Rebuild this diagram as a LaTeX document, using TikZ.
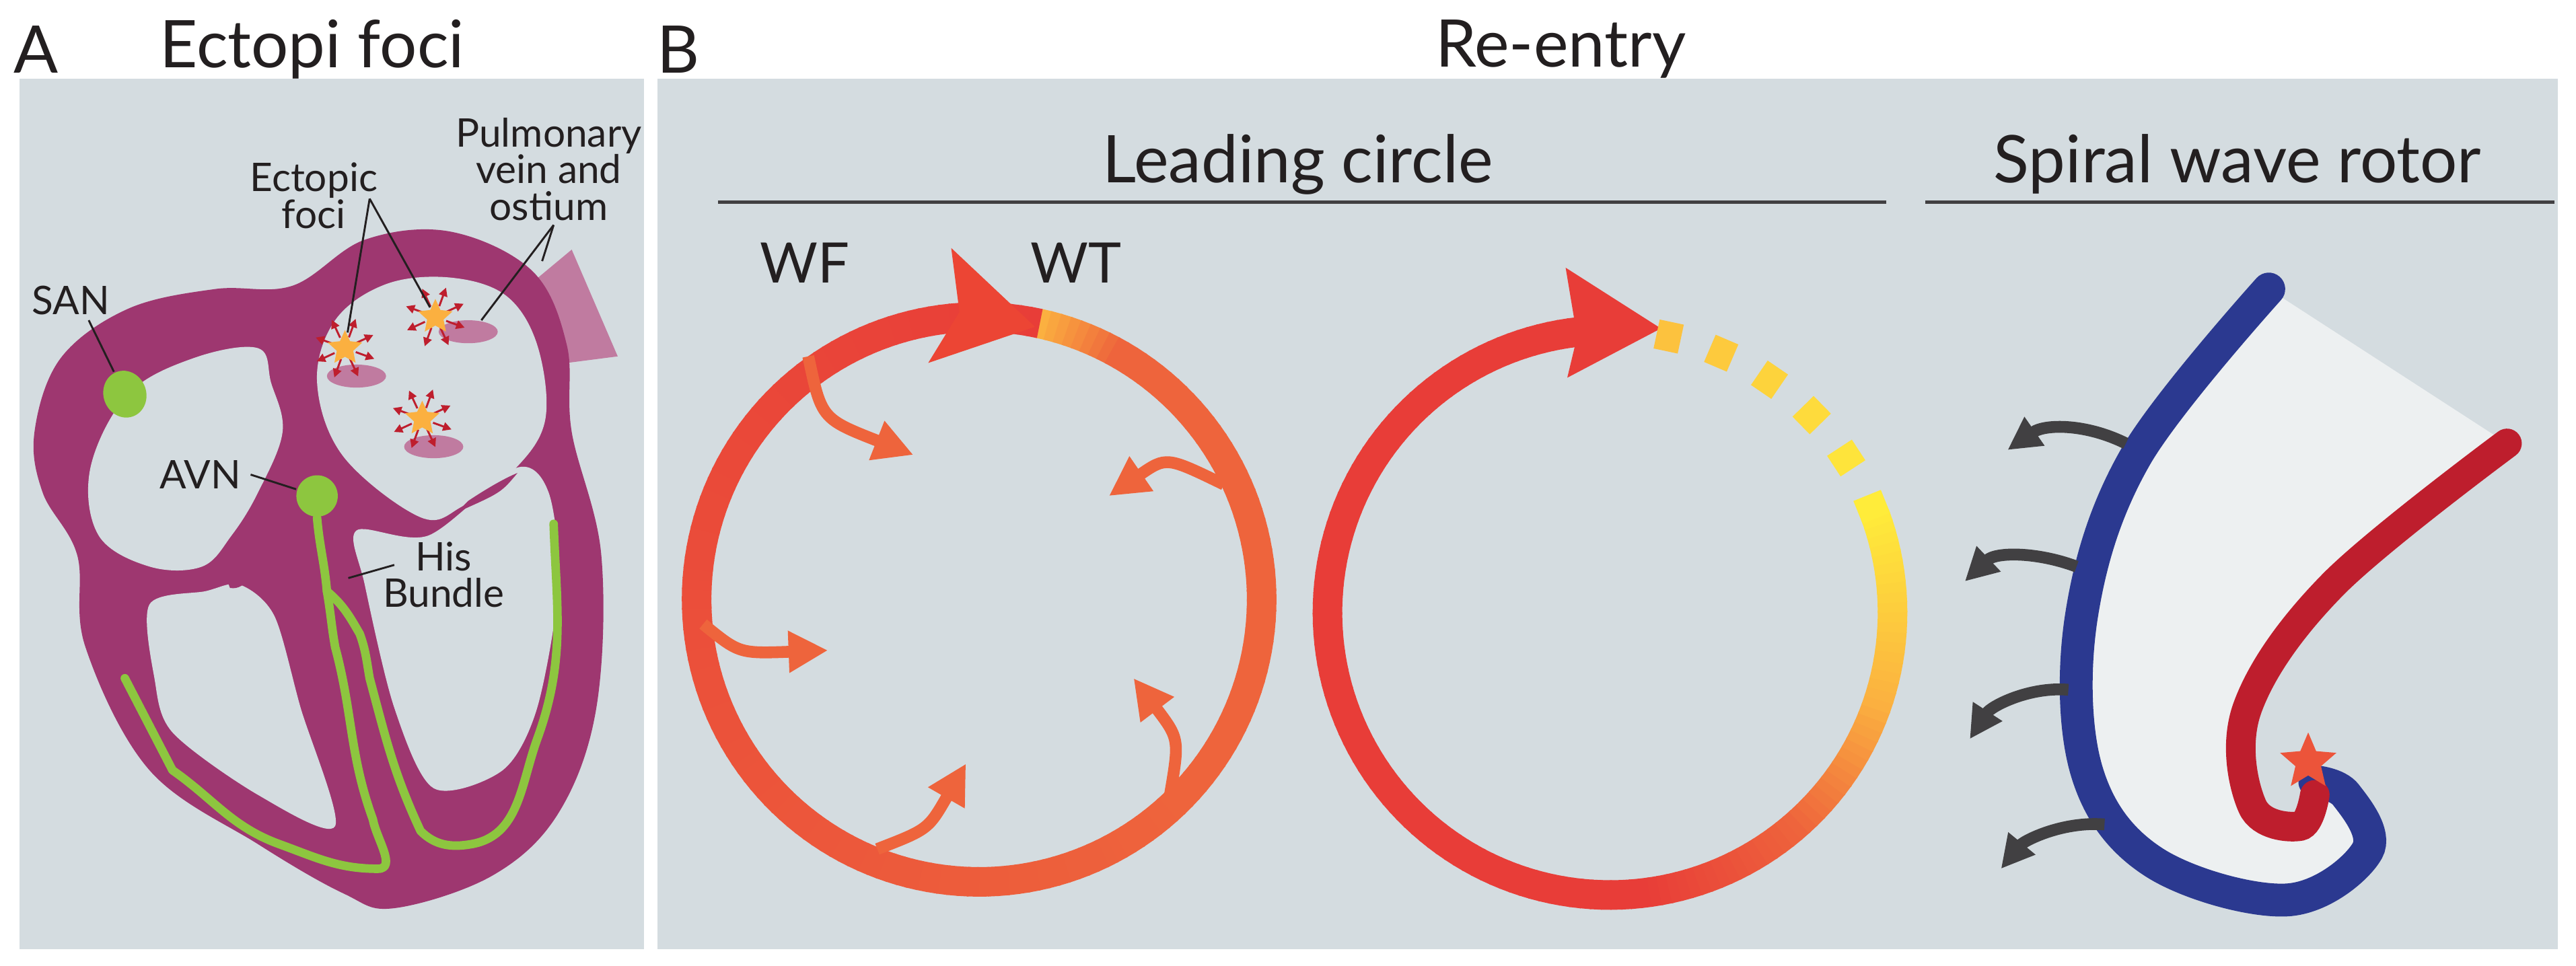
\documentclass[tikz,border=0pt]{standalone}
\usepackage{fontspec}
\setmainfont{Lato}
\usetikzlibrary{shapes.geometric,arrows.meta}
\definecolor{bg}{HTML}{D4DCE0}
\definecolor{heart}{HTML}{9E3770}
\definecolor{lpur}{HTML}{C07BA0}
\definecolor{grn}{HTML}{8DC63F}
\definecolor{rd}{HTML}{E83D38}
\definecolor{orng}{HTML}{EE643C}
\definecolor{yel}{HTML}{FBB040}
\definecolor{yel2}{HTML}{FFEC3A}
\definecolor{blu}{HTML}{2B3990}
\definecolor{srd}{HTML}{BE1E2D}
\definecolor{dk}{HTML}{414042}
\definecolor{txt}{HTML}{231F20}
\tikzset{
  title/.style={text=txt,font=\fontsize{10pt}{12pt}\selectfont,inner sep=0},
  lab/.style={text=txt,font=\fontsize{6pt}{6.6pt}\selectfont,inner sep=0,align=center},
  ptr/.style={draw=txt,line width=0.3pt},
  chamber/.style={fill=bg},
  bund/.style={draw=grn,line width=1.3pt,line cap=round,line join=round},
  small/.style={draw=orng,line width=1.8pt,-{Triangle[length=6pt,width=6pt]}},
  spark/.style={draw=srd,line width=0.3pt,-{Triangle[length=1.3pt,width=1.3pt]}},
  blk/.style={draw=dk,line width=1.8pt,-{Triangle[length=5pt,width=5pt]}},
}
\begin{document}
\begin{tikzpicture}[x=0.25pt,y=-0.25pt]
\useasboundingbox (0,0) rectangle (1568,588);
\fill[white] (0,0) rectangle (1568,588);
\fill[bg] (12,48) rectangle (392,578);
\fill[bg] (400,48) rectangle (1557,578);
\node[title] (A) at (22,30) {A};
\node[title] (tA) at (190,30) {Ectopi foci};
\node[title] (B) at (413,30) {B};
\node[title] (tB) at (950,30) {Re-entry};
\node[title] (tLC) at (790,100) {Leading circle};
\node[title] (tSW) at (1362,100) {Spiral wave rotor};
\draw[draw=dk,line width=0.5pt] (437,123) -- (1148,123);
\draw[draw=dk,line width=0.5pt] (1172,123) -- (1555,123);

% ---------- Heart ----------
\fill[lpur] (324,172) -- (348,152) -- (376,217) -- (345,221) -- cycle;
\fill[heart] plot[smooth cycle,tension=0.6] coordinates {(178,174) (222,146) (274,141) (324,165) (345,210) (348,263) (366,338) (363,431) (340,495) (300,533) (240,553) (209,544) (157,514) (91,469) (52,394) (47,338) (26,300) (21,263) (37,218) (78,188) (131,176)};
\fill[chamber] plot[smooth cycle,tension=0.6] coordinates {(55,285) (78,240) (118,218) (157,212) (165,233) (172,263) (157,300) (141,326) (123,345) (91,345) (60,326)};
\fill[chamber] plot[smooth cycle,tension=0.6] coordinates {(193,233) (204,195) (235,173) (274,169) (308,180) (327,210) (332,255) (314,285) (282,308) (256,315) (209,278)};
\fill[chamber] plot[smooth cycle,tension=0.5] coordinates {(91,368) (125,360) (146,356) (167,375) (183,431) (204,503) (157,484) (105,446) (94,413)};
\fill[chamber] plot[smooth cycle,tension=0.5] coordinates {(217,323) (261,326) (314,285) (334,300) (340,356) (327,431) (306,469) (264,480) (240,431) (222,356)};
% valves
\fill[heart] (150,330) .. controls (160,345) and (150,360) .. (140,358) .. controls (135,345) .. (150,330) -- cycle;
\fill[heart] (210,310) .. controls (240,300) and (255,315) .. (262,322) .. controls (240,320) .. (210,318) -- cycle;
\fill[heart] (285,305) .. controls (300,295) and (310,290) .. (315,288) .. controls (305,300) .. (278,312) -- cycle;
% bundle
\node[draw=none,fill=grn,ellipse,minimum width=6.5pt,minimum height=7.2pt,inner sep=0,rotate=20] (SAN) at (76,240) {};
\node[draw=none,fill=grn,circle,minimum size=6.3pt,inner sep=0] (AVN) at (193,302) {};
\draw[bund] (AVN.south) to[out=-85,in=95] (199,360) to[out=-80,in=100] (204,394) to[out=-75,in=110] (227,499) to[out=-80,in=0] (230,529) to[out=180,in=-20] (170,514) to[out=160,in=-35] (105,469) -- (76,413);
\draw[bund] (199,360) to[out=-40,in=120] (219,386) to[out=-70,in=100] (225,413) to[out=-75,in=115] (256,506) to[out=-45,in=190] (287,514) to[out=10,in=-110] (327,450) to[out=70,in=-88] (337,319);
% foci
\foreach \n/\sx/\sy/\ex/\ey in {f1/210/212/217/229, f2/265/193/285/202, f3/257/255/264/272}{
  \fill[lpur] (\ex,\ey) ellipse[x radius=18,y radius=7];
  \foreach \a in {0,45,...,315}{
    \draw[spark] ({\sx+7*cos(\a+20)},{\sy+7*sin(\a+20)}) -- ({\sx+19*cos(\a+20)},{\sy+19*sin(\a+20)});
  }
  \node[star,star points=5,star point ratio=2.1,fill=yel,minimum size=5.5pt,inner sep=0] (\n) at (\sx,\sy) {};
}
% labels
\node[lab] (lSAN) at (43,183) {SAN};
\draw[ptr] (54,195) -- (SAN);
\node[lab] (lAVN) at (122,289) {AVN};
\draw[ptr] (lAVN.east) ++(5,0) -- (AVN);
\node[lab] (lHis) at (270,350) {His\\[-1pt]Bundle};
\coordinate (hisEnd) at (212,352);
\draw[ptr] (240,344) -- (hisEnd);
\node[lab] (lEct) at (191,119) {Ectopic\\[-1pt]foci};
\coordinate (ectJ) at (225,121);
\draw[ptr] (ectJ) -- (f1);
\draw[ptr] (ectJ) -- (f2);
\node[lab] (lPul) at (334,103) {Pulmonary\\[-1pt]vein and\\[-1pt]ostium};
\coordinate (pulJ) at (337,137);
\draw[ptr] (pulJ) -- (293,195);
\draw[ptr] (pulJ) -- (330,159);

% ---------- Leading circle 1 ----------
\def\cxa{596}\def\cya{365}\def\ra{172}
\foreach \i in {0,...,179}{
  \pgfmathsetmacro{\aa}{78-2*\i}
  \pgfmathsetmacro{\ab}{78-2*\i-2.4}
  \ifnum\i<8
    \pgfmathtruncatemacro{\q}{100-\i*12.5}\colorlet{cc}{yel!\q!orng}
  \else
    \ifnum\i<60 \colorlet{cc}{orng}\else
    \pgfmathtruncatemacro{\q}{(\i-60)*100/120}\colorlet{cc}{rd!\q!orng}\fi
  \fi
  \draw[cc,line width=4.5pt] ({\cxa+\ra*cos(\aa)},{\cya-\ra*sin(\aa)}) -- ({\cxa+\ra*cos(\ab)},{\cya-\ra*sin(\ab)});
}
\fill[rd!60!orng!90!red] (630,199) -- (579,151) -- (584,190) -- (565,221) -- cycle;
\node[title,font=\fontsize{8.5pt}{10pt}\selectfont] (WF) at (490,160) {WF};
\node[title,font=\fontsize{8.5pt}{10pt}\selectfont] (WT) at (655,160) {WT};
\draw[small] (492,217) .. controls (500,255) .. (556,277);
\draw[small] (745,295) .. controls (710,278) .. (675,302);
\draw[small] (428,380) .. controls (450,398) .. (504,396);
\draw[small] (712,485) .. controls (718,450) .. (690,413);
\draw[small] (534,517) .. controls (565,505) .. (588,465);

% ---------- Leading circle 2 ----------
\def\cxb{980}\def\cyb{373}\def\rb{172}
\foreach \i in {0,...,141}{
  \pgfmathsetmacro{\aa}{96+2*\i}
  \pgfmathsetmacro{\ab}{96+2*\i+2.4}
  \ifnum\i<90 \colorlet{cc}{rd}\else
    \ifnum\i<107 \pgfmathtruncatemacro{\q}{(\i-90)*100/17}\colorlet{cc}{orng!\q!rd}\else
    \ifnum\i<122 \pgfmathtruncatemacro{\q}{(\i-107)*100/15}\colorlet{cc}{yel!\q!orng}\else
      \pgfmathtruncatemacro{\q}{(\i-122)*100/20}\colorlet{cc}{yel2!\q!yel}\fi\fi\fi
  \draw[cc,line width=4.5pt] ({\cxb+\rb*cos(\aa)},{\cyb-\rb*sin(\aa)}) -- ({\cxb+\rb*cos(\ab)},{\cyb-\rb*sin(\ab)});
}
\fill[rd] (1011,200) -- (953,163) -- (960,205) -- (954,230) -- cycle;
\foreach \k in {0,...,5}{
  \pgfmathsetmacro{\da}{80.5-\k*11.2}
  \pgfmathsetmacro{\db}{80.5-\k*11.2-5}
  \pgfmathtruncatemacro{\q}{\k*20}
  \draw[yel2!\q!yel!70!yel2,line width=4.5pt] ({\cxb+\rb*cos(\da)},{\cyb-\rb*sin(\da)}) -- ({\cxb+\rb*cos(\db)},{\cyb-\rb*sin(\db)});
}

% ---------- Spiral wave rotor ----------
\fill[black!4!bg!35!white] plot[smooth,tension=0.6] coordinates {(1381,176) (1300,278) (1267,375) (1270,469) (1311,525) (1392,548) (1441,518) (1428,484) (1409,476)} -- plot[smooth,tension=0.6] coordinates {(1409,484) (1400,503) (1371,491) (1368,431) (1420,356) (1526,270)} -- cycle;
\draw[blu,line width=5pt,line cap=round] plot[smooth,tension=0.6] coordinates {(1381,176) (1300,278) (1267,375) (1270,469) (1311,525) (1392,548) (1441,518) (1428,484) (1409,476)};
\draw[srd,line width=4.5pt,line cap=round] plot[smooth,tension=0.6] coordinates {(1526,270) (1420,356) (1368,431) (1371,491) (1400,503) (1409,484)};
\node[star,star points=5,star point ratio=2.2,fill=orng!60!rd,minimum size=9pt,inner sep=0] (rotor) at (1405,464) {};
\draw[blk] (1294,270) .. controls (1270,258) and (1245,258) .. (1222,274);
\draw[blk] (1264,345) .. controls (1240,336) and (1215,336) .. (1196,354);
\draw[blk] (1259,420) .. controls (1235,418) and (1212,430) .. (1199,450);
\draw[blk] (1281,502) .. controls (1255,500) and (1232,512) .. (1218,529);
\end{tikzpicture}
\end{document}
